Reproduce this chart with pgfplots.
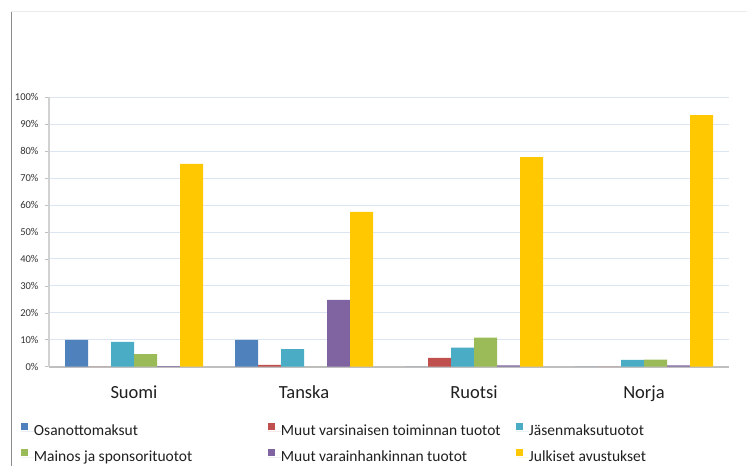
\documentclass[border=0pt]{standalone}
\usepackage{fontspec}
\setmainfont{Carlito}
\usepackage{pgfplots}
\pgfplotsset{compat=1.18}
\definecolor{cOsa}{HTML}{4F81BD}
\definecolor{cMuu}{HTML}{C0504D}
\definecolor{cJas}{HTML}{4BACC6}
\definecolor{cMai}{HTML}{9BBB59}
\definecolor{cVar}{HTML}{8064A2}
\definecolor{cJul}{HTML}{FFC800}
\definecolor{gridc}{HTML}{DCE6F2}
\begin{document}
\begin{tikzpicture}[x=1pt,y=1pt]
\useasboundingbox (0,0) rectangle (747,-466);
\draw[black!45, line width=0.8pt] (11,-11) -- (11,-466);
\draw[black!8, line width=0.8pt] (11,-11) -- (747,-11);
\begin{axis}[
  at={(49pt,-366.7pt)}, anchor=south west,
  width=680pt, height=269.4pt, scale only axis,
  xmin=-0.5, xmax=3.5, ymin=0, ymax=100,
  ybar=0pt, bar width=23pt,
  axis x line*=bottom, axis y line*=left,
  x axis line style={-, draw=black!25, line width=1.6pt},
  y axis line style={-, draw=black!18, line width=1.2pt},
  ytick={0,10,...,100},
  yticklabel={\pgfmathprintnumber{\tick}\%},
  /pgf/number format/assume math mode=true,
  tick align=outside, major tick length=4pt,
  ytick style={draw=black!25, line width=0.6pt},
  xtick style={draw=none},
  yticklabel style={font=\fontsize{10.5pt}{12pt}\selectfont, text=black!80, xshift=-3pt},
  xtick={0,1,2,3},
  xticklabels={Suomi,Tanska,Ruotsi,Norja},
  xticklabel style={font=\fontsize{18.5pt}{22pt}\selectfont, text=black!88, anchor=base, yshift=-28pt},
  ymajorgrids, grid style={draw=gridc, line width=0.9pt},
  every axis plot/.append style={draw=none},
  legend columns=3,
  legend cell align=left,
  legend style={at={(axis description cs:-0.0412,-0.209)}, anchor=north west,
    draw=none, fill=none, inner sep=0pt, outer sep=0pt,
    row sep=10.5pt, column sep=0pt,
    nodes={inner sep=0pt, text height=11pt, text depth=3.5pt},
    font=\fontsize{15.5pt}{18pt}\selectfont, text=black!88},
  legend image code/.code={
    \path (0pt,0pt) -- (13pt,0pt);
    \fill[#1] (0pt,1.5pt) rectangle (7pt,8.5pt);
  },
]
\addplot[fill=cOsa] coordinates {(0,10) (1,10) (2,0) (3,0)};
\addlegendentry{\makebox[234pt][l]{Osanottomaksut}}
\addplot[fill=cMuu] coordinates {(0,0) (1,0.7) (2,3.3) (3,0)};
\addlegendentry{\makebox[235pt][l]{Muut varsinaisen toiminnan tuotot}}
\addplot[fill=cJas] coordinates {(0,9.2) (1,6.5) (2,7.1) (3,2.5)};
\addlegendentry{Jäsenmaksutuotot}
\addplot[fill=cMai] coordinates {(0,4.7) (1,0) (2,10.8) (3,2.6)};
\addlegendentry{\makebox[234pt][l]{Mainos ja sponsorituotot}}
\addplot[fill=cVar] coordinates {(0,0.2) (1,24.8) (2,0.5) (3,0.5)};
\addlegendentry{\makebox[235pt][l]{Muut varainhankinnan tuotot}}
\addplot[fill=cJul] coordinates {(0,75.3) (1,57.5) (2,77.8) (3,93.4)};
\addlegendentry{Julkiset avustukset}
\end{axis}
\end{tikzpicture}
\end{document}
